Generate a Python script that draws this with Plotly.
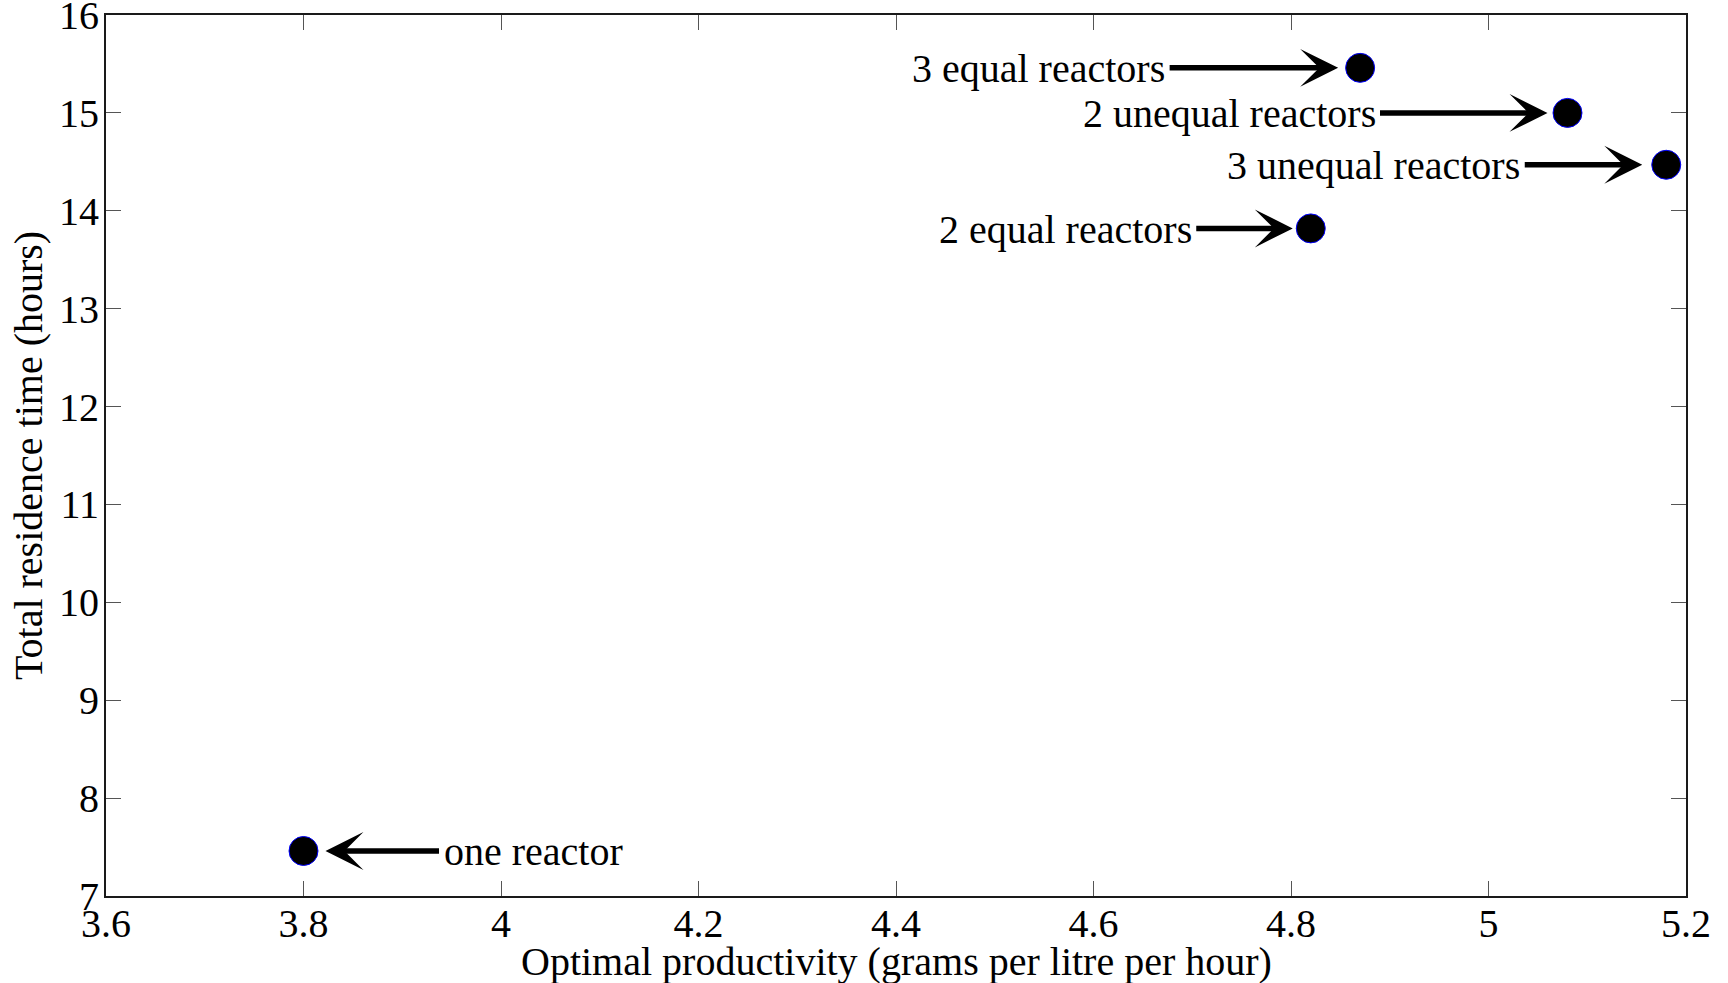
import plotly.graph_objects as go

# Data
labels = ["one reactor", "2 equal reactors", "3 equal reactors", "2 unequal reactors", "3 unequal reactors"]
productivity = [3.80, 4.82, 4.87, 5.08, 5.18]
residence = [7.46, 13.82, 15.46, 15.0, 14.47]
x_ticks = [3.6, 3.8, 4.0, 4.2, 4.4, 4.6, 4.8, 5.0, 5.2]
x_tick_text = ["3.6", "3.8", "4", "4.2", "4.4", "4.6", "4.8", "5", "5.2"]
y_ticks = [7, 8, 9, 10, 11, 12, 13, 14, 15, 16]

# Label layout (pixel offsets of arrow tails from the points, and gap before the marker)
tail_offset = [137, -116, -192, -189, -143]
standoff = [22, 18, 22, 20, 24]

FONT = "Liberation Serif, Times New Roman, serif"

fig = go.Figure()
fig.add_trace(go.Scatter(
    x=productivity, y=residence, mode="markers",
    marker=dict(size=29, color="black", line=dict(color="#0000ff", width=1)),
    showlegend=False, hoverinfo="skip",
))

annotations = []
for xv, yv, lab, off, so in zip(productivity, residence, labels, tail_offset, standoff):
    annotations.append(dict(
        x=xv, y=yv, xref="x", yref="y", text="", showarrow=True,
        ax=off, ay=0, axref="pixel", ayref="pixel",
        arrowhead=3, arrowsize=1.15, arrowwidth=5.5, arrowcolor="black",
        standoff=so,
    ))
    annotations.append(dict(
        x=xv, y=yv, xref="x", yref="y", text=lab, showarrow=False,
        xanchor="left" if off > 0 else "right", yanchor="middle",
        xshift=off + (1 if off > 0 else -1), yshift=-1,
        font=dict(family=FONT, size=40, color="black"),
    ))

annotations.append(dict(
    text="Optimal productivity (grams per litre per hour)", xref="paper", yref="paper",
    x=0.5, y=-0.0749, xanchor="center", yanchor="middle", showarrow=False,
    font=dict(family=FONT, size=40, color="black"),
))
annotations.append(dict(
    text="Total residence time (hours)", xref="paper", yref="paper",
    x=-0.0490, y=0.5, xanchor="center", yanchor="middle", showarrow=False, textangle=-90,
    font=dict(family=FONT, size=40, color="black"),
))

axis_common = dict(
    showgrid=False, zeroline=False, showline=True, linecolor="#1a1a1a", linewidth=2,
    mirror="ticks", ticks="inside", ticklen=15, tickwidth=1, tickcolor="#555555",
    tickfont=dict(family=FONT, size=40, color="black"),
    ticklabeloverflow="allow", automargin=False,
)

fig.update_layout(
    width=1728, height=983,
    margin=dict(l=106, r=42, t=15, b=87, autoexpand=False),
    paper_bgcolor="white", plot_bgcolor="white",
    xaxis=dict(range=[3.6, 5.2], tickvals=x_ticks, ticktext=x_tick_text,
               ticklabelstandoff=-9, **axis_common),
    yaxis=dict(range=[7, 16], tickvals=y_ticks, ticklabelstandoff=-3, **axis_common),
    annotations=annotations,
)

fig.write_html("out.html")
